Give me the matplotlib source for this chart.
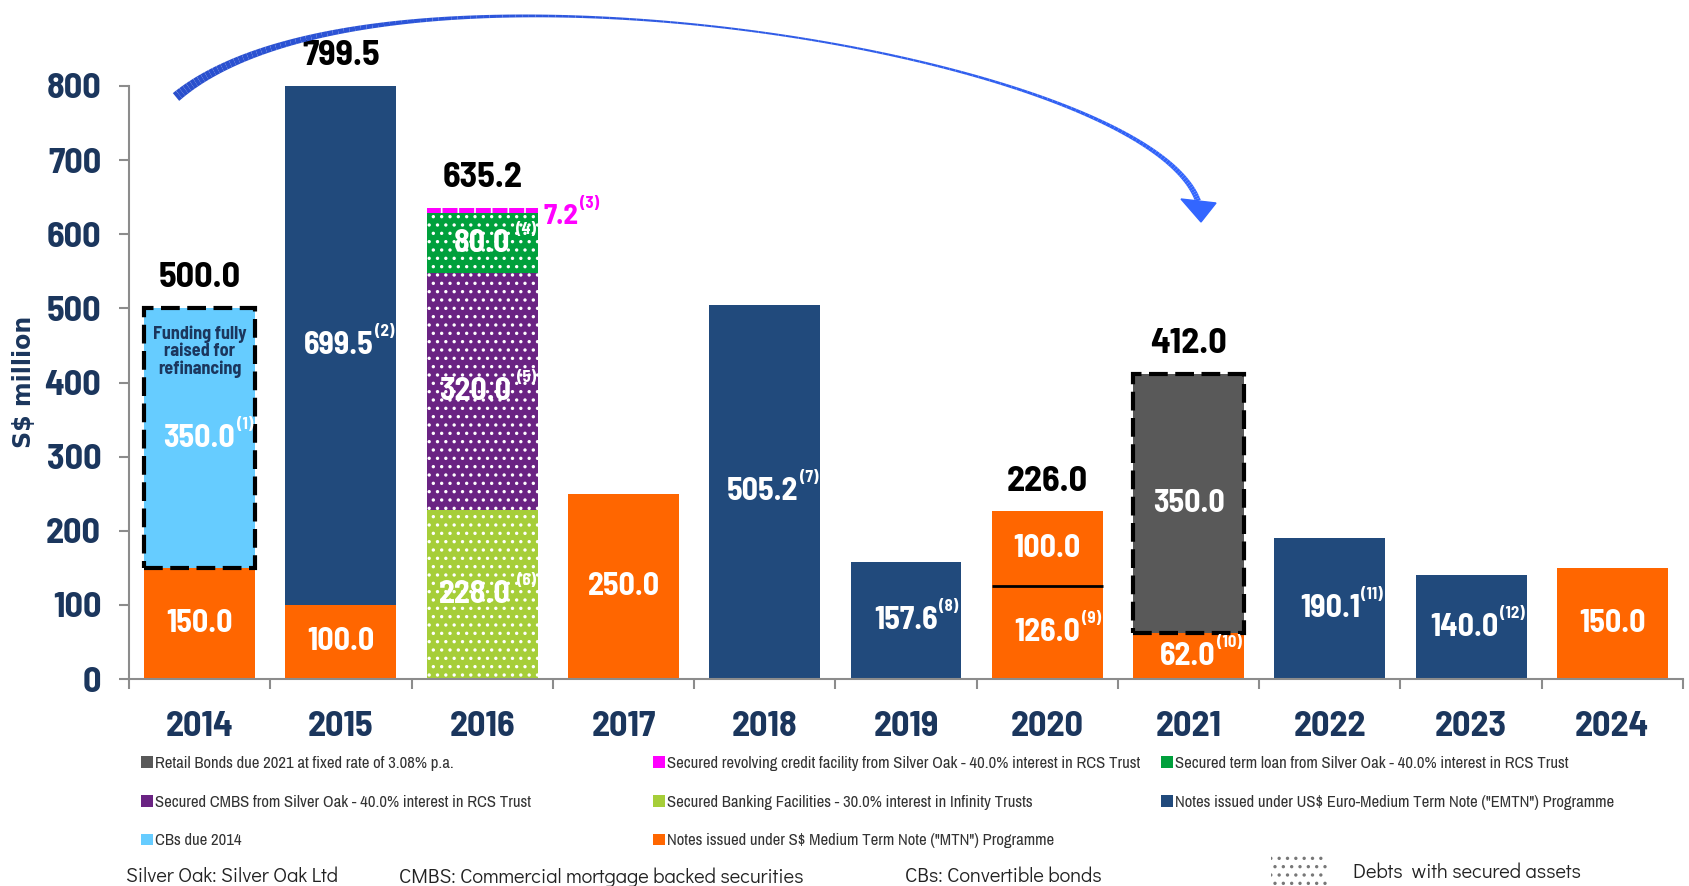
import matplotlib
matplotlib.use('Agg')
import matplotlib.pyplot as plt
import numpy as np
from matplotlib.patches import Patch, Rectangle, Polygon
from matplotlib.collections import LineCollection
from matplotlib.colors import to_rgb

W, H = 1689, 886

years = ['2014', '2015', '2016', '2017', '2018', '2019', '2020', '2021', '2022', '2023', '2024']

# S$ million, stacked bottom to top
mtn = [150.0, 100.0, 0, 250.0, 0, 0, 126.0, 62.0, 0, 0, 150.0]
mtn_upper = [0, 0, 0, 0, 0, 0, 100.0, 0, 0, 0, 0]
emtn = [0, 699.5, 0, 0, 505.2, 157.6, 0, 0, 190.1, 140.0, 0]
cbs = [350.0, 0, 0, 0, 0, 0, 0, 0, 0, 0, 0]
retail = [0, 0, 0, 0, 0, 0, 0, 350.0, 0, 0, 0]
banking = [0, 0, 228.0, 0, 0, 0, 0, 0, 0, 0, 0]
cmbs = [0, 0, 320.0, 0, 0, 0, 0, 0, 0, 0, 0]
term_loan = [0, 0, 80.0, 0, 0, 0, 0, 0, 0, 0, 0]
rcf = [0, 0, 7.2, 0, 0, 0, 0, 0, 0, 0, 0]

# footnote markers
mtn_notes = ['', '', '', '', '', '', '(9)', '(10)', '', '', '']
mtn_upper_notes = [''] * 11
emtn_notes = ['', '(2)', '', '', '(7)', '(8)', '', '', '(11)', '(12)', '']
cbs_notes = ['(1)'] + [''] * 10
retail_notes = [''] * 11
banking_notes = ['', '', '(6)'] + [''] * 8
cmbs_notes = ['', '', '(5)'] + [''] * 8
term_loan_notes = ['', '', '(4)'] + [''] * 8
rcf_notes = ['', '', '(3)'] + [''] * 8

C_MTN = '#FF6600'
C_EMTN = '#214A7C'
C_CBS = '#66CCFF'
C_RETAIL = '#595959'
C_BANK = '#A6CE39'
C_CMBS = '#6A2383'
C_TERM = '#00A03C'
C_RCF = '#FF00FF'
NAVY = '#1B365D'

NUM_FONT = ['Barlow Semi Condensed', 'Liberation Sans', 'DejaVu Sans']
SMALL_FONT = ['Archivo Narrow', 'Liberation Sans', 'DejaVu Sans']
FOOT_FONT = ['Didact Gothic', 'DejaVu Sans']
plt.rcParams['font.family'] = NUM_FONT
plt.rcParams['hatch.linewidth'] = 1.2

fig = plt.figure(figsize=(W / 100, H / 100), dpi=100)
ax = fig.add_axes([129 / W, 1 - 679 / H, (1683 - 129) / W, (679 - 86) / H])

x = np.arange(len(years))
width = 0.785

# (values, notes, colour, hatch, dashed box)
series = [
    (mtn, mtn_notes, C_MTN, None, False),
    (mtn_upper, mtn_upper_notes, C_MTN, None, False),
    (emtn, emtn_notes, C_EMTN, None, False),
    (cbs, cbs_notes, C_CBS, None, True),
    (retail, retail_notes, C_RETAIL, None, True),
    (banking, banking_notes, C_BANK, '..', False),
    (cmbs, cmbs_notes, C_CMBS, '..', False),
    (term_loan, term_loan_notes, C_TERM, '..', False),
    (rcf, rcf_notes, C_RCF, '|', False),
]

pairs = []
bottom = np.zeros(len(years))
n_parts = np.zeros(len(years), dtype=int)
for vals, notes, color, hatch, dashed in series:
    vals = np.array(vals, dtype=float)
    ax.bar(x, vals, width, bottom=bottom, color=color,
           edgecolor='white' if hatch else color,
           linewidth=0, hatch=hatch, zorder=2)
    if dashed:
        ax.bar(x[vals > 0], vals[vals > 0], width, bottom=bottom[vals > 0],
               fill=False, edgecolor='black', linewidth=3,
               linestyle=(0, (4.5, 1.8)), zorder=4, clip_on=False)
    for i in np.nonzero(vals)[0]:
        if color == C_RCF:
            lab = ax.annotate(f'{vals[i]:.1f}', xy=(x[i] + width / 2, bottom[i] + vals[i] / 2),
                              xytext=(4, -4), textcoords='offset points',
                              ha='left', va='center', fontsize=21, fontweight='bold',
                              color=C_RCF, annotation_clip=False)
            ax.annotate(notes[i], xy=(1.0, 0.72), xycoords=lab, xytext=(1, 0),
                        textcoords='offset points', ha='left', va='bottom',
                        fontsize=12, fontweight='bold', color=C_RCF)
            continue
        lab = ax.annotate(f'{vals[i]:.1f}', xy=(x[i], bottom[i] + vals[i] / 2),
                          xytext=(0, 0), textcoords='offset points', ha='center',
                          va='center', fontsize=23, fontweight='bold', color='white',
                          zorder=5)
        if notes[i]:
            gap = 4 if hatch else 1
            sup = ax.annotate(notes[i], xy=(1.0, 0.72), xycoords=lab, xytext=(gap, 0),
                              textcoords='offset points', ha='left', va='bottom',
                              fontsize=12, fontweight='bold', color='white', zorder=5)
            pairs.append((lab, sup, x[i] + width / 2))
    # the two MTN tranches of 2020 are split by a black rule
    if color == C_MTN:
        for i in np.nonzero((vals > 0) & (bottom > 0))[0]:
            ax.hlines(bottom[i], x[i] - width / 2, x[i] + width / 2,
                      colors='black', linewidth=2, zorder=3)
    n_parts += (vals > 0)
    bottom += vals

totals = bottom
for i in range(len(years)):
    if n_parts[i] > 1:
        ax.annotate(f'{totals[i]:.1f}', xy=(x[i], totals[i]), xytext=(0, 10),
                    textcoords='offset points', ha='center', va='bottom',
                    fontsize=26, fontweight='bold', color='black',
                    annotation_clip=False)

# note inside the convertible-bond block
i_cb = int(np.argmax(cbs))
ax.annotate('Funding fully\nraised for\nrefinancing',
            xy=(x[i_cb], mtn[i_cb] + cbs[i_cb]), xytext=(0, -12),
            textcoords='offset points', ha='center', va='top',
            fontsize=13, fontweight='bold', color=NAVY, linespacing=1.05, zorder=5)

ax.set_xlim(-0.5, len(years) - 0.5)
ax.set_ylim(0, 800)
ax.set_yticks(np.arange(0, 801, 100))
ax.set_xticks(x)
ax.set_xticklabels(years)
ax.set_xticks(np.arange(-0.5, len(years), 1), minor=True)
for s in ['top', 'right']:
    ax.spines[s].set_visible(False)
for s in ['left', 'bottom']:
    ax.spines[s].set_color('#8C8C8C')
    ax.spines[s].set_linewidth(1.5)
ax.tick_params(axis='x', which='major', length=0, pad=23, labelsize=26,
               labelcolor=NAVY)
ax.tick_params(axis='x', which='minor', length=7, width=1.5, color='#8C8C8C')
ax.tick_params(axis='y', length=7, width=1.5, color='#8C8C8C', pad=13,
               labelsize=26, labelcolor=NAVY)
for t in ax.get_xticklabels() + ax.get_yticklabels():
    t.set_fontweight('bold')

fig.text(24 / W, 1 - 382 / H, 'S$ million', rotation=90, ha='center', va='center',
         fontsize=17, fontweight='bold', color=NAVY, family='DejaVu Sans')

# curved arrow from 2014 towards 2021
P0 = np.array([176, 97])
P1 = np.array([376, -71])
P2 = np.array([1144, 51])
P3 = np.array([1198, 201])
t = np.linspace(0, 1, 200)[:, None]
curve = ((1 - t) ** 3 * P0 + 3 * (1 - t) ** 2 * t * P1
         + 3 * (1 - t) * t ** 2 * P2 + t ** 3 * P3)
pts = np.column_stack([curve[:, 0] / W, 1 - curve[:, 1] / H])
segs = np.stack([pts[:-1], pts[1:]], axis=1)
tm = t[:-1, 0]
px_w = np.where(tm < 0.5, 2 + 8 * (1 - tm / 0.5) ** 2, 2 + 4 * ((tm - 0.5) / 0.5) ** 2)
c0, c1 = np.array(to_rgb('#2A4FCC')), np.array(to_rgb('#3366FF'))
cols = c0 + (c1 - c0) * tm[:, None]
lc = LineCollection(segs, linewidths=px_w * 0.72, colors=cols,
                    transform=fig.transFigure, capstyle='butt')
fig.add_artist(lc)
head = np.array([[1181, 199], [1216, 203], [1201, 222]], dtype=float)
fig.add_artist(Polygon(np.column_stack([head[:, 0] / W, 1 - head[:, 1] / H]),
                       closed=True, color='#3366FF', transform=fig.transFigure))

# legend, three columns
legend_cols = [
    [(C_RETAIL, 'Retail Bonds due 2021 at fixed rate of 3.08% p.a.'),
     (C_CMBS, 'Secured CMBS from Silver Oak - 40.0% interest in RCS Trust'),
     (C_CBS, 'CBs due 2014')],
    [(C_RCF, 'Secured revolving credit facility from Silver Oak - 40.0% interest in RCS Trust'),
     (C_BANK, 'Secured Banking Facilities - 30.0% interest in Infinity Trusts'),
     (C_MTN, 'Notes issued under S$ Medium Term Note ("MTN") Programme')],
    [(C_TERM, 'Secured term loan from Silver Oak - 40.0% interest in RCS Trust'),
     (C_EMTN, 'Notes issued under US$ Euro-Medium Term Note ("EMTN") Programme')],
]
col_x = [141, 653, 1161]
for entries, cx in zip(legend_cols, col_x):
    leg = fig.legend(handles=[Patch(facecolor=c, label=l) for c, l in entries],
                     loc='upper left', bbox_to_anchor=(cx / W, 1 - 756 / H),
                     frameon=False, borderpad=0, borderaxespad=0,
                     handlelength=0.7, handleheight=0.7, handletextpad=0.15,
                     labelspacing=1.42, prop={'family': SMALL_FONT, 'size': 12})
    for txt in leg.get_texts():
        txt.set_color('#333333')

# footer
foot_y = 1 - 877 / H
fig.text(126 / W, foot_y, 'Silver Oak: Silver Oak Ltd', fontsize=14.5, color='#222222',
         va='center', family=FOOT_FONT)
fig.text(399 / W, foot_y, 'CMBS: Commercial mortgage backed securities', fontsize=14.5,
         color='#222222', va='center', family=FOOT_FONT)
fig.text(905 / W, foot_y, 'CBs: Convertible bonds', fontsize=14.5, color='#222222',
         va='center', family=FOOT_FONT)
fig.add_artist(Rectangle((1271 / W, 1 - 886 / H), 56 / W, 33 / H, facecolor='white',
                         edgecolor='#777777', linewidth=0, hatch='..',
                         transform=fig.transFigure))
fig.text(1353 / W, 1 - 872 / H, 'Debts  with secured assets', fontsize=14.5,
         color='#222222', va='center', family=FOOT_FONT)

# keep each value + footnote inside its bar
fig.canvas.draw()
renderer = fig.canvas.get_renderer()
for lab, sup, right in pairs:
    bar_right = ax.transData.transform((right, 0))[0]
    over = sup.get_window_extent(renderer).x1 - (bar_right - 2)
    if over > 0:
        lab.xyann = (-over * 72 / fig.dpi, 0)

fig.savefig('out.png', dpi=100)
